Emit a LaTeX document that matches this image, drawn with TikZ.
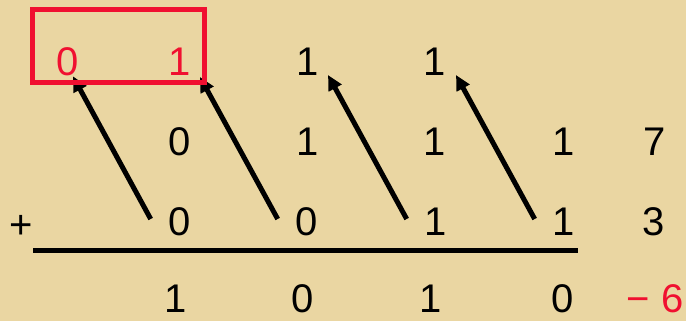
\documentclass[tikz,border=0pt]{standalone}
\usepackage{fontspec}
\setmainfont{Liberation Sans}
\usetikzlibrary{arrows.meta}
\definecolor{paper}{RGB}{234,214,162}
\definecolor{hired}{RGB}{240,16,48}

\begin{document}
\begin{tikzpicture}[
    x=1pt, y=-1pt,
    dig/.style={inner sep=0pt, font=\fontsize{40}{42}\selectfont},
    rdig/.style={dig, text=hired},
    arr/.style={-{Triangle[length=15pt,width=14pt]}, line width=5pt},
    sumline/.style={line width=5pt},
    hibox/.style={draw=hired, line width=5pt}
]
\fill[paper] (0,0) rectangle (686,321);
\useasboundingbox (0,0) rectangle (686,321);

\node[rdig] (c0) at (68,62) {0};
\node[rdig] (c1) at (180,62) {1};
\node[dig] (c2) at (308,62) {1};
\node[dig] (c3) at (435,62) {1};

\node[dig] (a1) at (180,142) {0};
\node[dig] (a2) at (308,142) {1};
\node[dig] (a3) at (435,142) {1};
\node[dig] (a4) at (564,142) {1};
\node[dig] (aval) at (655,142) {7};

\node[dig] (plus) at (21,227) {+};
\node[dig] (b1) at (180,222) {0};
\node[dig] (b2) at (307,222) {0};
\node[dig] (b3) at (436,222) {1};
\node[dig] (b4) at (564,222) {1};
\node[dig] (bval) at (654,222) {3};

\node[dig] (s1) at (176,299) {1};
\node[dig] (s2) at (303,299) {0};
\node[dig] (s3) at (431,299) {1};
\node[dig] (s4) at (563,299) {0};
\node[rdig] (sval) at (655,299) {− 6};

\draw[sumline] (33,250) -- (578,250);

\draw[arr] ([xshift=-18pt,yshift=3pt]b1.west) -- ([xshift=5pt]c0.south);
\draw[arr] ([xshift=-18pt,yshift=3pt]b2.west) -- ([xshift=20pt,yshift=-1pt]c1.south);
\draw[arr] ([xshift=-18pt,yshift=3pt]b3.west) -- ([xshift=20pt,yshift=1pt]c2.south);
\draw[arr] ([xshift=-18pt,yshift=3pt]b4.west) -- ([xshift=21pt,yshift=1pt]c3.south);

\draw[hibox] (32.5,9.5) rectangle (204.5,82.5);
\end{tikzpicture}
\end{document}
